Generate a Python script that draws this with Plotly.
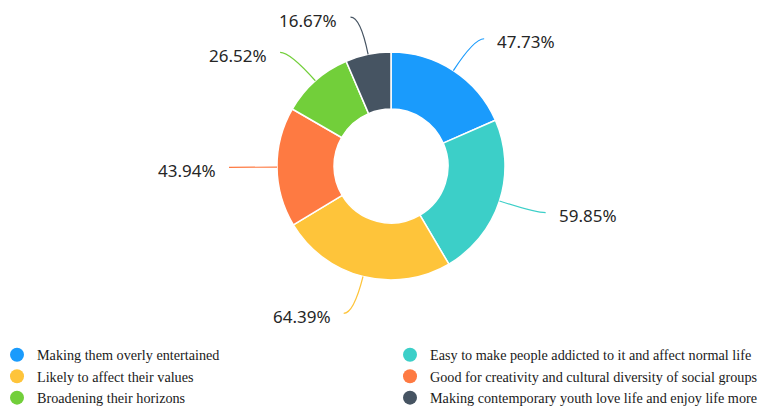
import math
import plotly.graph_objects as go

categories = [
    "Making them overly entertained",
    "Easy to make people addicted to it and affect normal life",
    "Likely to affect their values",
    "Good for creativity and cultural diversity of social groups",
    "Broadening their horizons",
    "Making contemporary youth love life and enjoy life more",
]
values = [47.73, 59.85, 64.39, 43.94, 26.52, 16.67]
value_labels = ["47.73%", "59.85%", "64.39%", "43.94%", "26.52%", "16.67%"]
colors = ["#1a9bfc", "#3ccfc8", "#fec43a", "#fe7a42", "#72cf3a", "#465462"]
legend_columns = ["legend", "legend2", "legend", "legend2", "legend", "legend2"]

# the page body adds an 8px margin, so the figure is drawn 8px in from the corner
OFF = 8
W, H = 771 - OFF, 409 - OFF
CX, CY, R = 391 - OFF, 166 - OFF, 114  # donut centre / outer radius in px
L1, L2, GAP = 38, 10, 11

fig = go.Figure()
fig.add_trace(go.Pie(
    labels=categories, values=values, sort=False, direction="clockwise", rotation=0,
    hole=0.5, textinfo="none", hoverinfo="label+value", showlegend=False,
    marker=dict(colors=colors, line=dict(color="white", width=1.5)),
    domain=dict(x=[(CX - R) / W, (CX + R) / W], y=[1 - (CY + R) / H, 1 - (CY - R) / H]),
))

for name, col, lg in zip(categories, colors, legend_columns):
    fig.add_trace(go.Scatter(x=[None], y=[None], mode="markers", name=name, legend=lg,
                             marker=dict(size=14, color=col), showlegend=True))

def px(x):
    return x / W

def py(y):
    return 1 - y / H

total = sum(values)
cum = 0.0
shapes, annotations = [], []
for v, lab, col in zip(values, value_labels, colors):
    mid = (cum + v / 2) / total * 2 * math.pi
    cum += v
    ux, uy = math.sin(mid), -math.cos(mid)
    p0 = (CX + R * ux, CY + R * uy)
    p1 = (CX + (R + L1) * ux, CY + (R + L1) * uy)
    s = 1 if ux >= 0 else -1
    p2 = (p1[0] + s * L2, p1[1])
    shapes.append(dict(
        type="path", xref="paper", yref="paper",
        path=f"M {px(p0[0])},{py(p0[1])} Q {px(p1[0])},{py(p1[1])} {px(p2[0])},{py(p2[1])}",
        line=dict(color=col, width=1.2),
    ))
    annotations.append(dict(
        x=px(p2[0] + s * GAP), y=py(p2[1] + 3), xref="paper", yref="paper",
        text=lab, showarrow=False, xanchor="left" if s > 0 else "right", yanchor="middle",
        font=dict(family="Noto Sans, sans-serif", size=17, color="#262626"),
    ))

legend_style = dict(orientation="v", xanchor="left", yanchor="bottom", traceorder="normal",
                    font=dict(family="Liberation Serif, serif", size=14.2, color="#1a1a1a"),
                    itemsizing="trace", bgcolor="rgba(0,0,0,0)")

fig.update_layout(
    width=W, height=H, margin=dict(l=0, r=0, t=0, b=0, autoexpand=False),
    paper_bgcolor="white", plot_bgcolor="white",
    xaxis=dict(visible=False), yaxis=dict(visible=False),
    shapes=shapes, annotations=annotations,
    legend=dict(x=-11 / W, y=-5 / H, **legend_style),
    legend2=dict(x=382 / W, y=-5 / H, **legend_style),
    showlegend=True,
)

fig.write_html("out.html")
